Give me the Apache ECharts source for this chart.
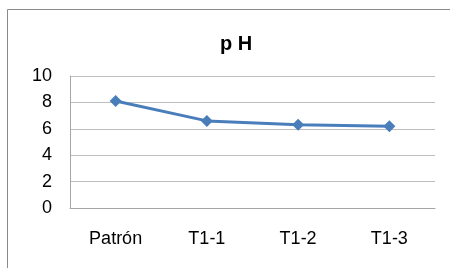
<!DOCTYPE html>
<html>
<head>
<meta charset="utf-8">
<script src="https://cdn.jsdelivr.net/npm/echarts@6/dist/echarts.min.js"></script>
<style>
  html, body { margin: 0; padding: 0; background: #fff; }
  #chart { width: 450px; height: 268px; }
</style>
</head>
<body>
<div id="chart"></div>
<script>
const categories = ['Patrón', 'T1-1', 'T1-2', 'T1-3']
const phValues = [8.1, 6.6, 6.3, 6.2]

const chart = echarts.init(document.getElementById('chart'))

chart.setOption({
  animation: false,
  title: {
    text: 'p H',
    left: 231,
    top: 29,
    textAlign: 'center',
    textStyle: { fontFamily: 'Liberation Sans', fontSize: 20, fontWeight: 'bold', color: '#000' },
  },
  // marco del gráfico
  graphic: [
    {
      type: 'rect',
      shape: { x: 7.5, y: 9.5, width: 500, height: 300 },
      style: { fill: 'none', stroke: '#8a8a8a', lineWidth: 1 },
    },
  ],
  grid: { left: 70, right: 15, top: 76, bottom: 60 },
  xAxis: {
    type: 'category',
    data: categories,
    boundaryGap: true,
    axisLine: { lineStyle: { color: '#a6a6a6' } },
    axisTick: { show: false },
    axisLabel: {
      margin: 22,
      fontFamily: 'Liberation Sans',
      fontSize: 18,
      color: '#000',
    },
  },
  yAxis: {
    type: 'value',
    min: 0,
    max: 10,
    interval: 2,
    axisLine: { show: true, lineStyle: { color: '#a6a6a6' } },
    axisTick: { show: false },
    splitLine: { lineStyle: { color: '#bfbfbf' } },
    axisLabel: {
      margin: 18,
      fontFamily: 'Liberation Sans',
      fontSize: 18,
      color: '#000',
    },
  },
  series: [
    {
      name: 'pH',
      type: 'line',
      data: phValues,
      symbol: 'diamond',
      symbolSize: 12,
      itemStyle: { color: '#4a7ebb' },
      lineStyle: { color: '#4a7ebb', width: 3 },
    },
  ],
})
</script>
</body>
</html>
